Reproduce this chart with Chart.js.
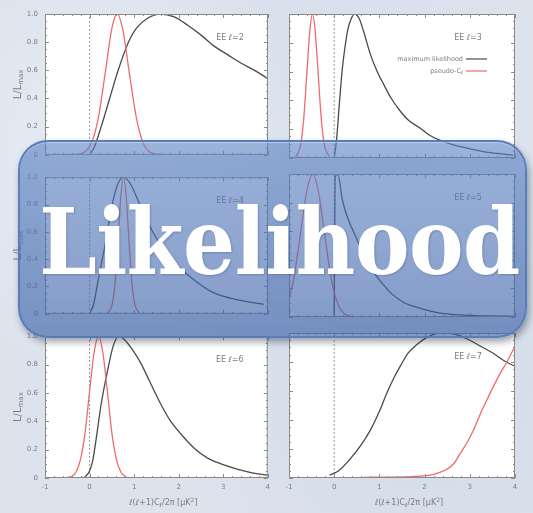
<!DOCTYPE html>
<html>
<head>
<meta charset="utf-8">
<script src="https://cdn.jsdelivr.net/npm/chart.js@4.4.1/dist/chart.umd.min.js"></script>
<style>
  html, body { margin: 0; padding: 0; }
  body {
    width: 533px; height: 513px; position: relative; overflow: hidden;
    background-color: #dce3ed;
    background-image:
      radial-gradient(circle at 20% 30%, rgba(255,255,255,0.35) 0, rgba(255,255,255,0) 40%),
      radial-gradient(circle at 80% 75%, rgba(200,210,228,0.45) 0, rgba(200,210,228,0) 45%),
      radial-gradient(circle at 60% 10%, rgba(210,220,235,0.5) 0, rgba(210,220,235,0) 35%);
  }
  canvas { position: absolute; }
  #banner {
    position: absolute; left: 18px; top: 140px; width: 505px; height: 194px;
    border-radius: 30px;
    border: 2px solid rgba(84, 122, 186, 0.9);
    background: linear-gradient(to bottom, rgba(88, 128, 194, 0.6), rgba(58, 96, 166, 0.63));
    box-shadow: 2px 4px 7px rgba(40, 50, 70, 0.45), inset 0 1px 0 rgba(255,255,255,0.35);
    z-index: 5;
  }
  #title {
    position: absolute; left: 0; width: 533px; top: 197px; text-align: center;
    padding-left: 26px; box-sizing: border-box;
    font-family: "DejaVu Serif Condensed", "DejaVu Serif", serif;
    font-weight: bold; font-size: 91px; line-height: 91px; letter-spacing: -0.5px;
    color: #ffffff; text-shadow: 1px 1px 2px rgba(30, 45, 80, 0.25);
    z-index: 6; white-space: nowrap;
  }
</style>
</head>
<body>
<div id="banner"></div>
<div id="title">Likelihood</div>
<script>
// ---- axis ticks ----
const xTickLabels = ['-1', '0', '1', '2', '3', '4'];
const yTickLabels = ['0', '0.2', '0.4', '0.6', '0.8', '1.0'];

// ---- panel titles ----
const panelTitles = ['EE \u2113=2', 'EE \u2113=3', 'EE \u2113=4', 'EE \u2113=5', 'EE \u2113=6', 'EE \u2113=7'];
const seriesNames = ['maximum likelihood', 'pseudo-C'];

// ---- l = 2 ----
const ml2X = [0, 0.1, 0.26, 0.45, 0.64, 0.87, 1.05, 1.3, 1.58, 1.9, 2.2, 2.5, 2.8, 3.1, 3.4, 3.7, 4.0];
const ml2Y = [0, 0.05, 0.2, 0.4, 0.6, 0.8, 0.9, 0.97, 1.0, 0.98, 0.92, 0.85, 0.77, 0.71, 0.65, 0.6, 0.54];
const ps2X = [-0.6, -0.3, -0.1, 0.05, 0.2, 0.35, 0.5, 0.62, 0.75, 0.9, 1.05, 1.2, 1.35, 1.55, 1.75];
const ps2Y = [0, 0.002, 0.022, 0.09, 0.27, 0.58, 0.9, 1.0, 0.88, 0.56, 0.26, 0.083, 0.019, 0.002, 0];

// ---- l = 3 ----
const ml3X = [0, 0.05, 0.12, 0.18, 0.23, 0.3, 0.38, 0.45, 0.55, 0.65, 0.79, 0.95, 1.08, 1.25, 1.45, 1.65, 1.89, 2.1, 2.33, 2.6, 2.92, 3.3, 3.6, 3.96];
const ml3Y = [0, 0.12, 0.4, 0.62, 0.75, 0.89, 0.97, 1.0, 0.97, 0.88, 0.73, 0.6, 0.52, 0.42, 0.33, 0.26, 0.21, 0.16, 0.125, 0.095, 0.07, 0.045, 0.032, 0.02];
const ps3X = [-0.85, -0.75, -0.68, -0.6, -0.54, -0.48, -0.42, -0.36, -0.28, -0.21, -0.11];
const ps3Y = [0.009, 0.08, 0.25, 0.61, 0.88, 1.0, 0.88, 0.61, 0.25, 0.08, 0.009];

// ---- l = 4 ----
const ml4X = [0, 0.09, 0.2, 0.35, 0.5, 0.62, 0.76, 0.9, 1.1, 1.4, 1.77, 2.22, 2.74, 3.27, 3.9];
const ml4Y = [0, 0.07, 0.26, 0.51, 0.79, 0.94, 1.0, 0.96, 0.82, 0.61, 0.42, 0.28, 0.16, 0.105, 0.07];
const ps4X = [0.4, 0.5, 0.57, 0.64, 0.7, 0.76, 0.82, 0.88, 0.95, 1.02, 1.12];
const ps4Y = [0.005, 0.062, 0.22, 0.55, 0.86, 1.0, 0.86, 0.55, 0.22, 0.062, 0.005];

// ---- l = 5 ----
const ml5X = [0, 0.02, 0.08, 0.18, 0.3, 0.48, 0.65, 0.84, 1.05, 1.28, 1.55, 1.8, 2.15, 2.53, 3.0, 3.5, 4.0];
const ml5Y = [0, 0.97, 1.0, 0.82, 0.69, 0.56, 0.44, 0.33, 0.24, 0.16, 0.1, 0.07, 0.04, 0.02, 0.012, 0.007, 0.005];
const ps5X = [-1.0, -0.9, -0.8, -0.7, -0.6, -0.48, -0.35, -0.2, -0.05, 0.1, 0.25, 0.45];
const ps5Y = [0.125, 0.26, 0.46, 0.69, 0.89, 1.0, 0.88, 0.55, 0.24, 0.076, 0.017, 0.001];

// ---- l = 6 ----
const ml6X = [-0.12, 0, 0.07, 0.15, 0.26, 0.4, 0.53, 0.66, 0.8, 0.95, 1.15, 1.35, 1.6, 1.8, 2.05, 2.35, 2.65, 2.95, 3.24, 3.6, 4.0];
const ml6Y = [0, 0.05, 0.12, 0.28, 0.52, 0.75, 0.93, 1.0, 0.97, 0.91, 0.81, 0.68, 0.52, 0.41, 0.31, 0.21, 0.14, 0.1, 0.07, 0.04, 0.02];
const ps6X = [-0.6, -0.4, -0.3, -0.2, -0.1, 0, 0.1, 0.2, 0.3, 0.4, 0.5, 0.6, 0.7, 0.8, 0.95];
const ps6Y = [0, 0.011, 0.044, 0.135, 0.32, 0.61, 0.88, 1.0, 0.88, 0.61, 0.32, 0.135, 0.044, 0.011, 0.001];

// ---- l = 7 ----
const ml7X = [-0.1, 0.1, 0.35, 0.6, 0.8, 1.0, 1.17, 1.32, 1.46, 1.63, 1.83, 2.05, 2.35, 2.55, 2.79, 3.0, 3.23, 3.52, 3.75, 4.0];
const ml7Y = [0.02, 0.05, 0.13, 0.23, 0.33, 0.46, 0.59, 0.69, 0.77, 0.86, 0.92, 0.97, 1.0, 1.0, 0.98, 0.95, 0.91, 0.86, 0.81, 0.77];
const ps7X = [0.65, 1.2, 1.7, 2.0, 2.2, 2.35, 2.49, 2.65, 2.79, 2.95, 3.08, 3.23, 3.38, 3.52, 3.67, 3.82, 4.0];
const ps7Y = [0.005, 0.006, 0.01, 0.015, 0.025, 0.04, 0.06, 0.1, 0.17, 0.25, 0.33, 0.44, 0.54, 0.63, 0.72, 0.8, 0.91];

const mlCurves = [[ml2X, ml2Y], [ml3X, ml3Y], [ml4X, ml4Y], [ml5X, ml5Y], [ml6X, ml6Y], [ml7X, ml7Y]];
const psCurves = [[ps2X, ps2Y], [ps3X, ps3Y], [ps4X, ps4Y], [ps5X, ps5Y], [ps6X, ps6Y], [ps7X, ps7Y]];

const ML_COLOR = '#4a4a4a';
const PS_COLOR = '#f26a6a';
const AXIS_COLOR = '#8a8a8a';
const LABEL_COLOR = '#7d7d7d';

const toPoints = (xs, ys) => xs.map((x, i) => ({ x: x, y: ys[i] }));

// Draws a string with a subscript part at (x, y), left aligned; returns end x.
function drawSub(ctx, main, sub, x, y, size) {
  ctx.font = size + 'px "DejaVu Sans", sans-serif';
  ctx.fillText(main, x, y);
  let w = ctx.measureText(main).width;
  ctx.font = Math.round(size * 0.7) + 'px "DejaVu Sans", sans-serif';
  ctx.fillText(sub, x + w, y + size * 0.3);
  return x + w + ctx.measureText(sub).width;
}
function subWidth(ctx, main, sub, size) {
  ctx.font = size + 'px "DejaVu Sans", sans-serif';
  let w = ctx.measureText(main).width;
  ctx.font = Math.round(size * 0.7) + 'px "DejaVu Sans", sans-serif';
  return w + ctx.measureText(sub).width;
}

// White plot background, frame with inward ticks, panel title, legend and axis titles.
const panelPlugin = {
  id: 'panelDecor',
  beforeDatasetsDraw(chart) {
    const { ctx, chartArea: a } = chart;
    ctx.save();
    ctx.fillStyle = '#ffffff';
    ctx.fillRect(a.left, a.top, a.right - a.left, a.bottom - a.top);
    ctx.restore();
  },
  afterDatasetsDraw(chart, args, opts) {
    const { ctx, chartArea: a, scales } = chart;
    const xs = scales.x, ys = scales.y;
    ctx.save();
    ctx.strokeStyle = AXIS_COLOR;
    ctx.lineWidth = 1;
    ctx.strokeRect(a.left + 0.5, a.top + 0.5, a.right - a.left - 1, a.bottom - a.top - 1);
    ctx.beginPath();
    for (let i = 0; i <= 20; i++) {
      const v = i * 0.05;
      const py = Math.round(ys.getPixelForValue(v)) + 0.5;
      const len = (i % 4 === 0) ? 4 : 2;
      ctx.moveTo(a.left, py); ctx.lineTo(a.left + len, py);
      ctx.moveTo(a.right, py); ctx.lineTo(a.right - len, py);
    }
    for (let i = 0; i <= 25; i++) {
      const v = -1 + i * 0.2;
      const px = Math.round(xs.getPixelForValue(v)) + 0.5;
      const len = (i % 5 === 0) ? 4 : 2;
      ctx.moveTo(px, a.bottom); ctx.lineTo(px, a.bottom - len);
      ctx.moveTo(px, a.top); ctx.lineTo(px, a.top + len);
    }
    ctx.stroke();

    // panel title
    ctx.fillStyle = LABEL_COLOR;
    ctx.font = '8px "DejaVu Sans", sans-serif';
    ctx.textAlign = 'center';
    ctx.textBaseline = 'middle';
    ctx.fillText(opts.title, a.right - opts.titleOffset, a.top + 24);

    // legend
    if (opts.legend) {
      ctx.textAlign = 'right';
      ctx.font = '6.5px "DejaVu Sans", sans-serif';
      const tx = a.right - 52;
      const y1 = a.top + 45, y2 = a.top + 57;
      ctx.fillText(seriesNames[0], tx, y1);
      ctx.textAlign = 'left';
      const w = subWidth(ctx, seriesNames[1], '\u2113', 6.5);
      drawSub(ctx, seriesNames[1], '\u2113', tx - w, y2, 6.5);
      ctx.lineWidth = 1.2;
      ctx.strokeStyle = ML_COLOR;
      ctx.beginPath(); ctx.moveTo(a.right - 49, y1); ctx.lineTo(a.right - 28, y1); ctx.stroke();
      ctx.strokeStyle = PS_COLOR;
      ctx.beginPath(); ctx.moveTo(a.right - 49, y2); ctx.lineTo(a.right - 28, y2); ctx.stroke();
    }

    // y axis title  L/L_max
    if (opts.yTitle) {
      ctx.save();
      ctx.translate(a.left - 27, (a.top + a.bottom) / 2);
      ctx.rotate(-Math.PI / 2);
      ctx.fillStyle = LABEL_COLOR;
      ctx.textAlign = 'left';
      ctx.textBaseline = 'middle';
      const w = subWidth(ctx, 'L/L', 'max', 10);
      drawSub(ctx, 'L/L', 'max', -w / 2, 0, 10);
      ctx.restore();
    }

    // x axis title  l(l+1)C_l/2pi [uK^2]
    if (opts.xTitle) {
      ctx.fillStyle = LABEL_COLOR;
      ctx.textAlign = 'left';
      ctx.textBaseline = 'middle';
      const size = 8;
      const parts = ['\u2113(\u2113+1)C', '\u2113', '/2\u03c0 [\u03bcK', '2', ']'];
      ctx.font = size + 'px "DejaVu Sans", sans-serif';
      const w0 = ctx.measureText(parts[0]).width, w2 = ctx.measureText(parts[2]).width, w4 = ctx.measureText(parts[4]).width;
      ctx.font = Math.round(size * 0.7) + 'px "DejaVu Sans", sans-serif';
      const w1 = ctx.measureText(parts[1]).width, w3 = ctx.measureText(parts[3]).width;
      let x = (a.left + a.right) / 2 + 7 - (w0 + w1 + w2 + w3 + w4) / 2;
      const y = a.bottom + 25;
      ctx.font = size + 'px "DejaVu Sans", sans-serif'; ctx.fillText(parts[0], x, y); x += w0;
      ctx.font = Math.round(size * 0.7) + 'px "DejaVu Sans", sans-serif'; ctx.fillText(parts[1], x, y + 2.5); x += w1;
      ctx.font = size + 'px "DejaVu Sans", sans-serif'; ctx.fillText(parts[2], x, y); x += w2;
      ctx.font = Math.round(size * 0.7) + 'px "DejaVu Sans", sans-serif'; ctx.fillText(parts[3], x, y - 3); x += w3;
      ctx.font = size + 'px "DejaVu Sans", sans-serif'; ctx.fillText(parts[4], x, y);
    }
    ctx.restore();
  }
};

// Grid placement of the six panels: [column, row]
const cols = [{ left: 0, width: 275, yWidth: 45, padRight: 7, titleOffset: 38 },
              { left: 275, width: 258, yWidth: 14, padRight: 18, titleOffset: 47 }];
const rows = [{ top: 0, height: 166, padTop: 14, padBottom: 8, xHeight: 0 },
              { top: 166, height: 159, padTop: 8, padBottom: 8, xHeight: 0 },
              { top: 325, height: 188, padTop: 8, padBottom: 0, xHeight: 35 }];

for (let p = 0; p < 6; p++) {
  const col = cols[p % 2], row = rows[Math.floor(p / 2)];
  const isLeft = (p % 2 === 0), isBottom = (p >= 4);
  const cv = document.createElement('canvas');
  cv.width = col.width; cv.height = row.height;
  cv.style.left = col.left + 'px'; cv.style.top = row.top + 'px';
  cv.style.width = col.width + 'px'; cv.style.height = row.height + 'px';
  document.body.appendChild(cv);

  new Chart(cv, {
    type: 'line',
    data: {
      datasets: [
        { data: toPoints(psCurves[p][0], psCurves[p][1]), borderColor: PS_COLOR, borderWidth: 1.3,
          pointRadius: 0, cubicInterpolationMode: 'monotone', fill: false },
        { data: toPoints(mlCurves[p][0], mlCurves[p][1]), borderColor: ML_COLOR, borderWidth: 1.3,
          pointRadius: 0, cubicInterpolationMode: 'monotone', fill: false },
        { data: [{ x: 0, y: 0 }, { x: 0, y: 1 }], borderColor: '#9a9a9a', borderWidth: 1,
          borderDash: [2, 2], pointRadius: 0, tension: 0, fill: false }
      ]
    },
    options: {
      responsive: false, animation: false, events: [], devicePixelRatio: 1,
      layout: { padding: { top: row.padTop, right: col.padRight, bottom: row.padBottom, left: 0 } },
      plugins: {
        legend: { display: false }, tooltip: { enabled: false },
        panelDecor: { title: panelTitles[p], titleOffset: col.titleOffset, legend: p === 1,
                      yTitle: isLeft, xTitle: isBottom }
      },
      scales: {
        x: {
          type: 'linear', min: -1, max: 4,
          grid: { display: false, drawTicks: false }, border: { display: false },
          ticks: { display: isBottom, stepSize: 1, autoSkip: false, padding: 5, maxRotation: 0,
                   color: LABEL_COLOR, font: { size: 7, family: 'DejaVu Sans' },
                   callback: (v, i) => xTickLabels[i] },
          afterFit: s => { s.height = row.xHeight; }
        },
        y: {
          type: 'linear', min: 0, max: 1,
          grid: { display: false, drawTicks: false }, border: { display: false },
          ticks: { display: isLeft, stepSize: 0.2, autoSkip: false, padding: 7,
                   color: LABEL_COLOR, font: { size: 7, family: 'DejaVu Sans' },
                   callback: (v, i) => yTickLabels[i] },
          afterFit: s => { s.width = col.yWidth; }
        }
      }
    },
    plugins: [panelPlugin]
  });
}
</script>
</body>
</html>
